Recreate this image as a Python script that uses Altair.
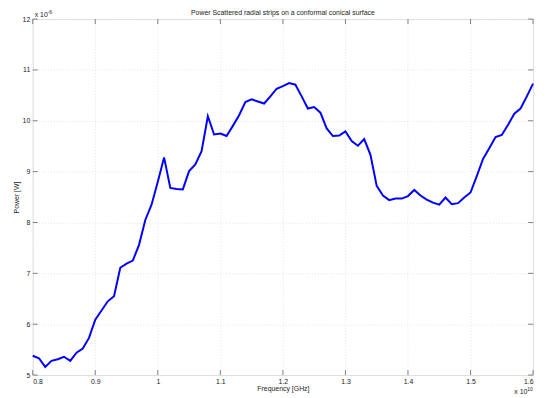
import altair as alt
import pandas as pd

freq = [0.80, 0.81, 0.82, 0.83, 0.84, 0.85, 0.86, 0.87, 0.88, 0.89,
        0.90, 0.91, 0.92, 0.93, 0.94, 0.95, 0.96, 0.97, 0.98, 0.99,
        1.00, 1.01, 1.02, 1.03, 1.04, 1.05, 1.06, 1.07, 1.08, 1.09,
        1.10, 1.11, 1.12, 1.13, 1.14, 1.15, 1.16, 1.17, 1.18, 1.19,
        1.20, 1.21, 1.22, 1.23, 1.24, 1.25, 1.26, 1.27, 1.28, 1.29,
        1.30, 1.31, 1.32, 1.33, 1.34, 1.35, 1.36, 1.37, 1.38, 1.39,
        1.40, 1.41, 1.42, 1.43, 1.44, 1.45, 1.46, 1.47, 1.48, 1.49,
        1.50, 1.51, 1.52, 1.53, 1.54, 1.55, 1.56, 1.57, 1.58, 1.59, 1.60]
power = [5.38, 5.33, 5.16, 5.28, 5.31, 5.36, 5.28, 5.44, 5.52, 5.73,
         6.09, 6.27, 6.45, 6.55, 7.11, 7.19, 7.25, 7.56, 8.05, 8.35,
         8.80, 9.28, 8.68, 8.66, 8.65, 9.01, 9.14, 9.40, 10.09, 9.73,
         9.75, 9.70, 9.90, 10.11, 10.37, 10.42, 10.38, 10.34, 10.48, 10.63,
         10.68, 10.74, 10.71, 10.48, 10.24, 10.27, 10.16, 9.85, 9.70, 9.71,
         9.79, 9.60, 9.51, 9.64, 9.33, 8.72, 8.53, 8.44, 8.47, 8.47,
         8.52, 8.64, 8.53, 8.45, 8.39, 8.35, 8.49, 8.36, 8.38, 8.49,
         8.59, 8.91, 9.25, 9.46, 9.68, 9.72, 9.92, 10.14, 10.24, 10.48, 10.73]
x_ticks = [0.8, 0.9, 1.0, 1.1, 1.2, 1.3, 1.4, 1.5, 1.6]
y_ticks = [5, 6, 7, 8, 9, 10, 11, 12]
title_text = "Power Scattered radial strips on a conformal conical surface"

W, H = 506, 360
FONT = "Liberation Sans"
AX = "#7f7f7f"
GRID = "#e2e2e2"

df = pd.DataFrame({"f": freq, "p": power})
xt = pd.DataFrame({"v": x_ticks})
yt = pd.DataFrame({"v": y_ticks})

xs = alt.Scale(domain=[0.8, 1.6], nice=False, zero=False)
ys = alt.Scale(domain=[5, 12], nice=False, zero=False)

xaxis = alt.Axis(values=x_ticks, format=".1~f", ticks=False, domain=False,
                 labelPadding=3, labelFontSize=7, labelFont=FONT, labelColor="#222",
                 grid=True, gridColor=GRID, gridDash=[1, 2],
                 title="Frequency [GHz]", titleFontSize=7, titleFont=FONT,
                 titleFontWeight="normal", titleColor="#222",
                 titleX=W / 2, titleY=14, titleBaseline="middle", titleAlign="center")
yaxis = alt.Axis(values=y_ticks, ticks=False, domain=False,
                 labelPadding=3, labelFontSize=7, labelFont=FONT, labelColor="#222",
                 grid=True, gridColor=GRID, gridDash=[1, 2],
                 title="Power [W]", titleFontSize=7, titleFont=FONT,
                 titleFontWeight="normal", titleColor="#222",
                 titleX=-16, titleY=H / 2, titleAngle=-90,
                 titleBaseline="middle", titleAlign="center")

line = alt.Chart(df).mark_line(color="#0000ff", strokeWidth=2).encode(
    x=alt.X("f:Q", scale=xs, axis=xaxis),
    y=alt.Y("p:Q", scale=ys, axis=yaxis),
)

tl = 5
bot = alt.Chart(xt).mark_rule(color=AX).encode(
    x=alt.X("v:Q", scale=xs), y=alt.value(H), y2=alt.value(H - tl))
top = alt.Chart(xt).mark_rule(color=AX).encode(
    x=alt.X("v:Q", scale=xs), y=alt.value(0), y2=alt.value(tl))
left = alt.Chart(yt).mark_rule(color=AX).encode(
    y=alt.Y("v:Q", scale=ys), x=alt.value(0), x2=alt.value(tl))
right = alt.Chart(yt).mark_rule(color=AX).encode(
    y=alt.Y("v:Q", scale=ys), x=alt.value(W), x2=alt.value(W - tl))

def txt(s, x, y, size, align="left"):
    return alt.Chart(pd.DataFrame({"t": [s]})).mark_text(
        font=FONT, fontSize=size, color="#222", align=align, baseline="middle"
    ).encode(text="t:N", x=alt.value(x), y=alt.value(y))

ann = (txt(title_text, W / 2, -6, 7, "center")
       + txt("x 10", 2, -4, 7) + txt("-6", 15, -7, 5)
       + txt("x 10", 487, H + 17, 7) + txt("10", 500, H + 14, 5))

chart = alt.layer(line, bot, top, left, right, ann).properties(
    width=W, height=H,
    autosize=alt.AutoSizeParams(type="none"),
    padding={"left": 25, "top": 9, "right": 6, "bottom": 20},
).configure_view(stroke=AX, strokeWidth=1).configure(background="white")

chart.save("out.html", embed_options={"renderer": "svg", "actions": False})
